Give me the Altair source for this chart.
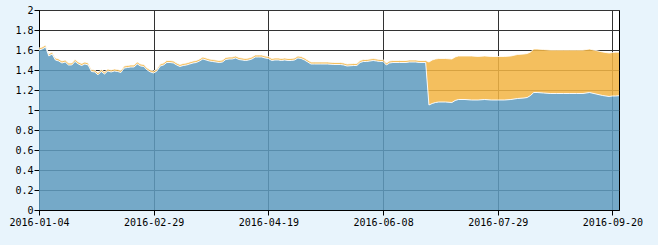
import altair as alt
import pandas as pd

# x ticks: trading-day index -> label
tick_idx = [0, 35, 70, 105, 140, 175]
tick_labels = ["2016-01-04", "2016-02-29", "2016-04-19", "2016-06-08", "2016-07-29", "2016-09-20"]
y_ticks = [0, 0.2, 0.4, 0.6, 0.8, 1.0, 1.2, 1.4, 1.6, 1.8, 2.0]

# trading-day index of each observation
day_idx = [0, 1, 2, 3, 4, 5, 6, 7, 8, 9, 10, 11, 12, 13, 14, 15, 16, 17, 18, 19,
           20, 21, 22, 23, 24, 25, 26, 27, 28, 29, 30, 31, 32, 33, 34, 35, 36, 37, 38, 39,
           40, 41, 42, 43, 44, 45, 46, 47, 48, 49, 50, 51, 52, 53, 54, 55, 56, 57, 58, 59,
           60, 61, 62, 63, 64, 65, 66, 67, 68, 69, 70, 71, 72, 73, 74, 75, 76, 77, 78, 79,
           80, 81, 82, 83, 84, 86, 88, 90, 92, 93, 94, 96, 97, 98, 99, 100, 101, 102, 103, 104,
           105, 106, 107, 108, 110, 112, 113, 115, 116, 118,
           119, 120, 121, 122, 124, 126, 127, 128, 130, 132, 134, 136, 138, 140, 142, 144,
           146, 148, 149, 150, 151, 152, 154, 156, 158, 160, 162, 164, 166, 168, 170, 172,
           174, 175, 176, 177]

# unit NAV (blue)
unit_nav = [1.60, 1.61, 1.63, 1.54, 1.56, 1.50, 1.49, 1.47, 1.48, 1.45, 1.45, 1.485, 1.46, 1.445, 1.46, 1.45, 1.385, 1.38, 1.352, 1.385,
            1.36, 1.39, 1.38, 1.39, 1.385, 1.375, 1.42, 1.425, 1.43, 1.43, 1.46, 1.44, 1.435, 1.40, 1.38, 1.37, 1.39, 1.44, 1.45, 1.475,
            1.475, 1.47, 1.45, 1.435, 1.445, 1.45, 1.46, 1.47, 1.475, 1.49, 1.51, 1.50, 1.49, 1.485, 1.48, 1.475, 1.48, 1.505, 1.51, 1.51,
            1.52, 1.505, 1.50, 1.495, 1.50, 1.51, 1.53, 1.53, 1.53, 1.52, 1.515, 1.495, 1.50, 1.50, 1.495, 1.50, 1.495, 1.495, 1.50, 1.52,
            1.515, 1.50, 1.48, 1.46, 1.46, 1.46, 1.46, 1.455, 1.455, 1.45, 1.44, 1.445, 1.445, 1.475, 1.485, 1.485, 1.49, 1.495, 1.49, 1.485,
            1.485, 1.45, 1.47, 1.475, 1.475, 1.475, 1.48, 1.48, 1.475, 1.475,
            1.05, 1.065, 1.075, 1.08, 1.08, 1.075, 1.095, 1.105, 1.105, 1.10, 1.10, 1.105, 1.10, 1.10, 1.10, 1.105,
            1.115, 1.12, 1.125, 1.145, 1.175, 1.175, 1.17, 1.165, 1.165, 1.165, 1.165, 1.165, 1.165, 1.175, 1.16, 1.145,
            1.135, 1.14, 1.14, 1.143]

# cumulative NAV (orange)
cum_nav = [1.62, 1.63, 1.65, 1.56, 1.58, 1.52, 1.51, 1.49, 1.50, 1.47, 1.47, 1.505, 1.48, 1.465, 1.48, 1.47, 1.405, 1.40, 1.372, 1.405,
           1.38, 1.41, 1.40, 1.41, 1.405, 1.395, 1.44, 1.445, 1.45, 1.45, 1.48, 1.46, 1.455, 1.42, 1.40, 1.39, 1.41, 1.46, 1.47, 1.495,
           1.495, 1.49, 1.47, 1.455, 1.465, 1.47, 1.48, 1.49, 1.495, 1.51, 1.53, 1.52, 1.51, 1.505, 1.50, 1.495, 1.50, 1.525, 1.53, 1.53,
           1.54, 1.525, 1.52, 1.515, 1.52, 1.53, 1.55, 1.55, 1.55, 1.54, 1.535, 1.515, 1.52, 1.52, 1.515, 1.52, 1.515, 1.515, 1.52, 1.54,
           1.535, 1.52, 1.50, 1.48, 1.48, 1.48, 1.48, 1.475, 1.475, 1.47, 1.46, 1.465, 1.465, 1.495, 1.505, 1.505, 1.51, 1.515, 1.51, 1.505,
           1.505, 1.47, 1.49, 1.495, 1.495, 1.495, 1.50, 1.50, 1.495, 1.495,
           1.48, 1.50, 1.51, 1.515, 1.515, 1.51, 1.53, 1.54, 1.54, 1.54, 1.535, 1.54, 1.535, 1.535, 1.535, 1.54,
           1.555, 1.56, 1.565, 1.58, 1.61, 1.61, 1.605, 1.60, 1.60, 1.60, 1.60, 1.60, 1.60, 1.61, 1.595, 1.58,
           1.57, 1.575, 1.578, 1.578]

df = pd.DataFrame({"idx": day_idx, "unit": unit_nav, "cum": cum_nav})

label_expr = " : ".join(
    f"datum.value == {i} ? '{lab}'" for i, lab in zip(tick_idx, tick_labels)
) + " : ''"

FONT = "DejaVu Sans Mono"

x_axis = alt.Axis(
    values=tick_idx, labelExpr=label_expr, title=None, grid=True,
    gridColor="#333333", gridWidth=1, tickSize=5, tickColor="#000000",
    domainColor="#000000", labelFont=FONT, labelFontSize=10,
    labelColor="#000000", labelPadding=2, labelFlush=False, labelOverlap=False,
)
x_scale = alt.Scale(domain=[0, 177], nice=False, zero=False)
y_scale = alt.Scale(domain=[0, 2], nice=False)
y_axis = alt.Axis(
    values=y_ticks, format=".1~f", title=None, grid=True,
    gridColor="#333333", gridWidth=1, tickSize=5, tickColor="#000000",
    domainColor="#000000", labelFont=FONT, labelFontSize=10,
    labelColor="#000000", labelPadding=1, labelOverlap=False,
)


def X():
    return alt.X("idx:Q", scale=x_scale, axis=x_axis)


def Y(field):
    return alt.Y(f"{field}:Q", scale=y_scale, axis=y_axis)


base = alt.Chart(df)

orange = base.mark_area(color="#f2b544", opacity=0.86).encode(
    x=X(), y=Y("cum"), y2="unit:Q",
)
blue = base.mark_area(color="#5e9bbf", opacity=0.86).encode(
    x=X(), y=Y("unit"),
)
line_cum = base.mark_line(color="#ffffff", strokeWidth=1, opacity=0.8).encode(
    x=X(), y=Y("cum")
)
line_unit = base.mark_line(color="#ffffff", strokeWidth=1, opacity=0.9).encode(
    x=X(), y=Y("unit")
)

chart = alt.layer(orange, blue, line_cum, line_unit).properties(
    width=580,
    height=200,
    autosize="none",
    padding={"left": 39, "top": 10, "right": 39, "bottom": 35},
    background="#e8f4fc",
).configure_view(
    fill="#ffffff", stroke="#000000", strokeWidth=1
)

chart.save("out.html", embed_options={"renderer": "svg", "actions": False})
